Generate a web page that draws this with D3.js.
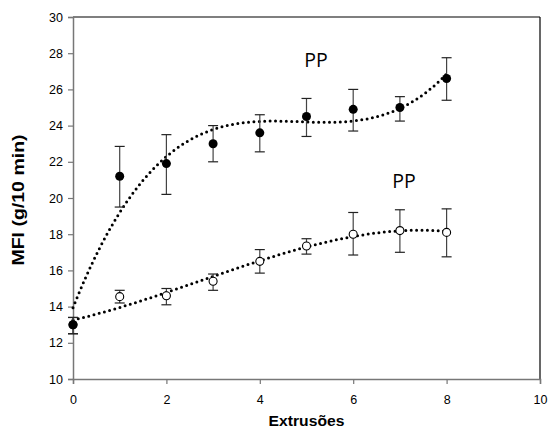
<!DOCTYPE html>
<html>
<head>
<meta charset="utf-8">
<script src="https://cdn.jsdelivr.net/npm/d3@7"></script>
<style>
  body { margin: 0; background: #fff; }
  text { font-family: "Liberation Sans", Arial, sans-serif; }
</style>
</head>
<body>
<script>
// data
var extrusions = [0, 1, 2, 3, 4, 5, 6, 7, 8];
var mfiFilled = [13.0, 21.2, 21.9, 23.0, 23.6, 24.5, 24.9, 25.0, 26.6];
var errFilledLow = [12.5, 19.5, 20.2, 22.0, 22.55, 23.4, 23.7, 24.25, 25.4];
var errFilledHigh = [13.4, 22.85, 23.5, 24.0, 24.6, 25.5, 26.0, 25.6, 27.75];
var mfiOpen = [13.0, 14.55, 14.6, 15.4, 16.5, 17.35, 18.0, 18.2, 18.1];
var errOpenLow = [12.5, 14.2, 14.1, 14.9, 15.85, 16.9, 16.85, 17.0, 16.75];
var errOpenHigh = [13.4, 14.9, 15.0, 15.8, 17.15, 17.75, 19.2, 19.35, 19.4];
var xTicks = [0, 2, 4, 6, 8, 10];
var yTicks = [10, 12, 14, 16, 18, 20, 22, 24, 26, 28, 30];

var width = 549, height = 427;
var margin = {left: 73, right: 9, top: 17, bottom: 48};

var svg = d3.select("body")
    .append("svg")
    .attr("width", width)
    .attr("height", height);

var x = d3.scaleLinear().domain([0, 10]).range([margin.left, width - margin.right]);
var y = d3.scaleLinear().domain([10, 30]).range([height - margin.bottom, margin.top]);

// least squares polynomial (trend line like the spreadsheet)
function polyfit(xs, ys, deg) {
    var n = deg + 1;
    var A = [], b = [];
    for (var i = 0; i < n; i++) {
        A.push([]);
        for (var j = 0; j < n; j++) {
            A[i].push(d3.sum(xs, function(v) { return Math.pow(v, i + j); }));
        }
        b.push(d3.sum(xs, function(v, k) { return ys[k] * Math.pow(v, i); }));
    }
    for (var c = 0; c < n; c++) {
        var p = c;
        for (var r = c + 1; r < n; r++) if (Math.abs(A[r][c]) > Math.abs(A[p][c])) p = r;
        var t = A[c]; A[c] = A[p]; A[p] = t;
        t = b[c]; b[c] = b[p]; b[p] = t;
        for (var r2 = c + 1; r2 < n; r2++) {
            var f = A[r2][c] / A[c][c];
            for (var k = c; k < n; k++) A[r2][k] -= f * A[c][k];
            b[r2] -= f * b[c];
        }
    }
    var coef = new Array(n);
    for (var i2 = n - 1; i2 >= 0; i2--) {
        var s = b[i2];
        for (var j2 = i2 + 1; j2 < n; j2++) s -= A[i2][j2] * coef[j2];
        coef[i2] = s / A[i2][i2];
    }
    return function(v) {
        return d3.sum(coef, function(cf, e) { return cf * Math.pow(v, e); });
    };
}

var fitFilled = polyfit(extrusions, mfiFilled, 3);
var fitOpen = polyfit(extrusions, mfiOpen, 3);
var xs = d3.range(0, 8.001, 0.05);

// frame top and right
svg.append("line")
    .attr("x1", x(0)).attr("x2", x(10))
    .attr("y1", y(30)).attr("y2", y(30))
    .attr("stroke", "#000").attr("stroke-width", 1.2);
svg.append("line")
    .attr("x1", x(10)).attr("x2", x(10))
    .attr("y1", y(30)).attr("y2", y(10))
    .attr("stroke", "#000").attr("stroke-width", 1.2);

var xAxis = svg.append("g")
    .attr("transform", "translate(0," + y(10) + ")")
    .call(d3.axisBottom(x).tickValues(xTicks).tickSize(5).tickPadding(11));
var yAxis = svg.append("g")
    .attr("transform", "translate(" + x(0) + ",0)")
    .call(d3.axisLeft(y).tickValues(yTicks).tickSize(5).tickPadding(5));

[xAxis, yAxis].forEach(function(a) {
    a.select(".domain").attr("stroke", "#777").attr("stroke-width", 1.5);
    a.selectAll(".tick line").attr("stroke", "#777").attr("stroke-width", 1.2);
    a.selectAll(".tick text")
        .style("font-family", "'Liberation Sans', Arial, sans-serif")
        .style("font-size", "12.5px")
        .attr("fill", "#000");
});

var line = d3.line()
    .x(function(d) { return x(d[0]); })
    .y(function(d) { return y(d[1]); });

function drawCurve(fit) {
    svg.append("path")
        .datum(xs.map(function(v) { return [v, fit(v)]; }))
        .attr("d", line)
        .attr("fill", "none")
        .attr("stroke", "#000")
        .attr("stroke-width", 3)
        .attr("stroke-linecap", "round")
        .attr("stroke-dasharray", "0,5.4");
}
drawCurve(fitFilled);
drawCurve(fitOpen);

function drawErrors(vals, lo, hi) {
    var g = svg.append("g");
    extrusions.forEach(function(e, i) {
        var cx = x(e);
        g.append("line")
            .attr("x1", cx).attr("x2", cx)
            .attr("y1", y(lo[i])).attr("y2", y(hi[i]))
            .attr("stroke", "#444").attr("stroke-width", 1.2);
        [lo[i], hi[i]].forEach(function(v) {
            g.append("line")
                .attr("x1", cx - 5).attr("x2", cx + 5)
                .attr("y1", y(v)).attr("y2", y(v))
                .attr("stroke", "#222").attr("stroke-width", 1.2);
        });
    });
}
drawErrors(mfiOpen, errOpenLow, errOpenHigh);
drawErrors(mfiFilled, errFilledLow, errFilledHigh);

svg.append("g").selectAll("circle")
    .data(extrusions)
    .enter().append("circle")
    .attr("cx", function(d) { return x(d); })
    .attr("cy", function(d, i) { return y(mfiOpen[i]); })
    .attr("r", 4)
    .attr("fill", "#fff")
    .attr("stroke", "#000")
    .attr("stroke-width", 1.1);

svg.append("g").selectAll("circle")
    .data(extrusions)
    .enter().append("circle")
    .attr("cx", function(d) { return x(d); })
    .attr("cy", function(d, i) { return y(mfiFilled[i]); })
    .attr("r", 4.5)
    .attr("fill", "#000");

// labels
svg.append("text")
    .attr("x", 316).attr("y", 66.5)
    .attr("text-anchor", "middle")
    .style("font-family", "'Open Sans', sans-serif")
    .style("font-size", "19.5px")
    .text("PP");
svg.append("text")
    .attr("x", 404).attr("y", 188)
    .attr("text-anchor", "middle")
    .style("font-family", "'Open Sans', sans-serif")
    .style("font-size", "19.5px")
    .text("PP");

svg.append("text")
    .attr("transform", "translate(" + ((x(0) + x(10)) / 2) + ",425.5) scale(1.12,1)")
    .attr("text-anchor", "middle")
    .style("font-size", "14px")
    .style("font-weight", "bold")
    .text("Extrusões");

svg.append("text")
    .attr("transform", "translate(24," + ((y(10) + y(30)) / 2 + 2) + ") rotate(-90) scale(1.22,1)")
    .attr("text-anchor", "middle")
    .style("font-size", "16px")
    .style("font-weight", "bold")
    .text("MFI (g/10 min)");
</script>
</body>
</html>
